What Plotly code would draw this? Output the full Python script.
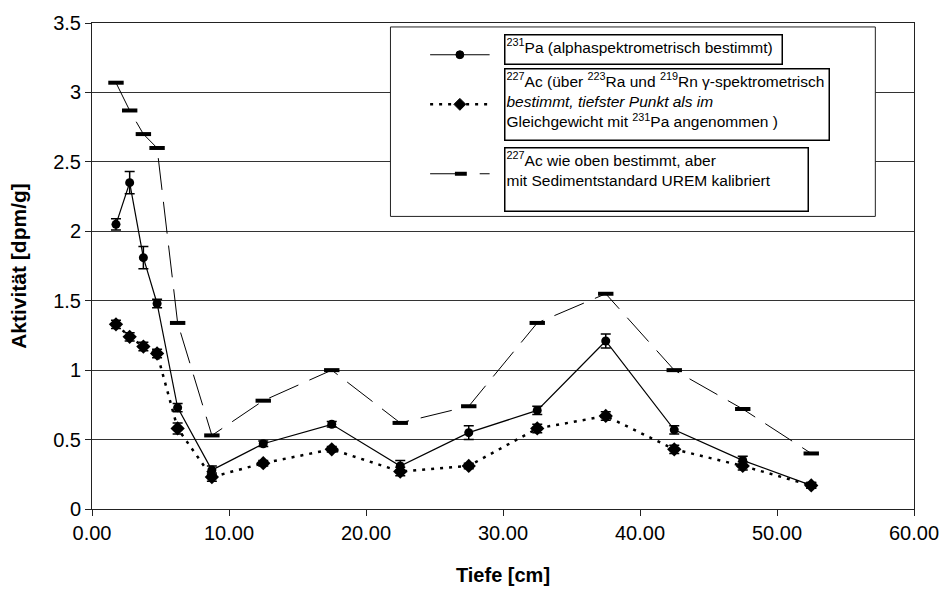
import plotly.graph_objects as go

# ---- data ----
tiefe = [1.75, 2.75, 3.75, 4.75, 6.25, 8.75, 12.5, 17.5, 22.5, 27.5, 32.5, 37.5, 42.5, 47.5, 52.5]
pa231 = [2.05, 2.35, 1.81, 1.48, 0.73, 0.28, 0.47, 0.61, 0.31, 0.55, 0.71, 1.21, 0.57, 0.35, 0.17]
pa231_err = [0.04, 0.08, 0.08, 0.03, 0.03, 0.03, 0.02, 0.02, 0.04, 0.05, 0.03, 0.05, 0.03, 0.03, 0.02]
ac227 = [1.33, 1.24, 1.17, 1.12, 0.58, 0.23, 0.33, 0.43, 0.27, 0.31, 0.58, 0.67, 0.43, 0.31, 0.17]
ac227_err = [0.03, 0.03, 0.03, 0.03, 0.04, 0.03, 0.02, 0.02, 0.03, 0.02, 0.03, 0.03, 0.03, 0.03, 0.02]
ac227_urem = [3.07, 2.87, 2.70, 2.60, 1.34, 0.53, 0.78, 1.00, 0.62, 0.74, 1.34, 1.55, 1.00, 0.72, 0.40]

legend_texts = [
    "<sup>231</sup>Pa (alphaspektrometrisch bestimmt)",
    "<sup>227</sup>Ac (über <sup>223</sup>Ra und <sup>219</sup>Rn γ-spektrometrisch<br>"
    "<i>bestimmt, tiefster Punkt als im</i><br>Gleichgewicht mit <sup>231</sup>Pa angenommen )",
    "<sup>227</sup>Ac wie oben bestimmt, aber<br>mit Sedimentstandard UREM kalibriert",
]

W, H = 951, 594
L, R, T, B = 92, 30, 21, 83
PW, PH = W - L - R, H - T - B


def px(x):
    return (x - L) / PW


def py(y):
    return (H - B - y) / PH


FONT = "Liberation Sans, Arial, sans-serif"

fig = go.Figure()

fig.add_trace(go.Scatter(
    x=tiefe, y=ac227_urem, mode="lines+markers",
    line=dict(color="black", width=1, dash="32px,12px"),
    marker=dict(symbol="line-ew", size=11, line=dict(color="black", width=4)),
    showlegend=False,
))
fig.add_trace(go.Scatter(
    x=tiefe, y=ac227, mode="lines+markers",
    line=dict(color="black", width=2.5, dash="3px,6px"),
    marker=dict(symbol="diamond", size=11, color="black"),
    error_y=dict(type="data", array=ac227_err, color="black", thickness=1.5, width=5),
    showlegend=False,
))
fig.add_trace(go.Scatter(
    x=tiefe, y=pa231, mode="lines+markers",
    line=dict(color="black", width=1.2),
    marker=dict(symbol="circle", size=9, color="black"),
    error_y=dict(type="data", array=pa231_err, color="black", thickness=1.5, width=5),
    showlegend=False,
))

shapes = []
# legend outer box
shapes.append(dict(type="rect", xref="paper", yref="paper",
                   x0=px(393), x1=px(882), y0=py(216), y1=py(25),
                   fillcolor="white", line=dict(color="#222", width=1), layer="above"))
# legend samples
shapes.append(dict(type="line", xref="paper", yref="paper", x0=px(433), x1=px(493),
                   y0=py(53), y1=py(53), line=dict(color="black", width=1.2), layer="above"))
shapes.append(dict(type="circle", xref="paper", yref="paper", x0=px(459), x1=px(467),
                   y0=py(57), y1=py(49), fillcolor="black", line=dict(color="black", width=1), layer="above"))
shapes.append(dict(type="line", xref="paper", yref="paper", x0=px(433), x1=px(493),
                   y0=py(103), y1=py(103), line=dict(color="black", width=2.5, dash="3px,6px"), layer="above"))
yd = 103
shapes.append(dict(type="path", xref="paper", yref="paper",
                   path=f"M {px(457)} {py(yd)} L {px(463)} {py(yd-6)} L {px(469)} {py(yd)} L {px(463)} {py(yd+6)} Z",
                   fillcolor="black", line=dict(color="black", width=1), layer="above"))
shapes.append(dict(type="line", xref="paper", yref="paper", x0=px(433), x1=px(460),
                   y0=py(173), y1=py(173), line=dict(color="black", width=1), layer="above"))
shapes.append(dict(type="line", xref="paper", yref="paper", x0=px(458), x1=px(470),
                   y0=py(173), y1=py(173), line=dict(color="black", width=4), layer="above"))
shapes.append(dict(type="line", xref="paper", yref="paper", x0=px(483), x1=px(493),
                   y0=py(173), y1=py(173), line=dict(color="black", width=1), layer="above"))
fig.update_layout(shapes=shapes)

boxes = [(508, 32, 277, 30), (508, 66, 324, 72), (508, 146, 303, 64)]
for txt, (bx, by, bw, bh) in zip(legend_texts, boxes):
    fig.add_annotation(
        text=txt, xref="paper", yref="paper", x=px(bx), y=py(by),
        xanchor="left", yanchor="top", showarrow=False,
        width=bw - 3, height=bh - 4, align="left", valign="top",
        bordercolor="black", borderwidth=1.5, borderpad=1, bgcolor="white",
        font=dict(family=FONT, size=15.5, color="black"),
    )

fig.update_layout(
    width=W, height=H,
    margin=dict(l=L, r=R, t=T, b=B),
    paper_bgcolor="white", plot_bgcolor="white",
    font=dict(family=FONT, color="black"),
    xaxis=dict(
        range=[0, 60], dtick=10, tickformat=".2f",
        showgrid=False, zeroline=False,
        showline=True, linecolor="#222", linewidth=1, mirror=True,
        ticks="outside", ticklen=6, tickcolor="#222",
        tickfont=dict(family=FONT, size=20),
        title=dict(text="<b>Tiefe [cm]</b>", font=dict(family=FONT, size=20), standoff=24),
    ),
    yaxis=dict(
        range=[0, 3.5], dtick=0.5,
        showgrid=True, gridcolor="#333", gridwidth=1, zeroline=False,
        showline=True, linecolor="#222", linewidth=1, mirror=True,
        ticks="outside", ticklen=6, tickcolor="#222",
        tickfont=dict(family=FONT, size=20),
        title=dict(text="<b>Aktivität [dpm/g]</b>", font=dict(family=FONT, size=21), standoff=20),
    ),
)

fig.write_html("out.html")
